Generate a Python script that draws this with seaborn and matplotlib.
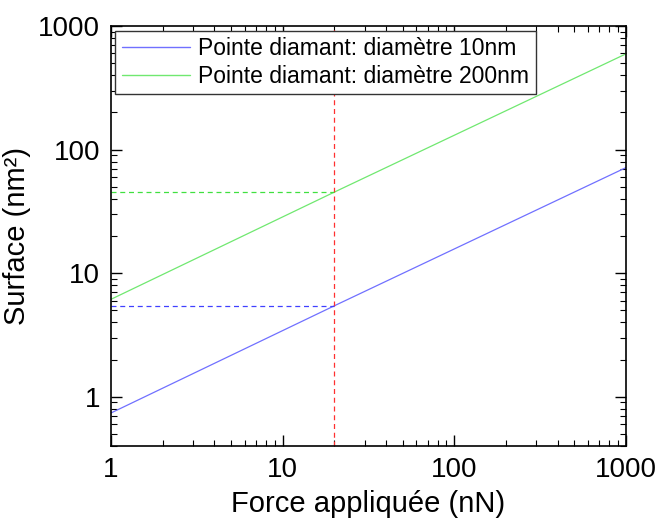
import matplotlib
matplotlib.use("Agg")
import pandas as pd
import matplotlib.pyplot as plt
import seaborn as sns
from matplotlib.ticker import LogLocator, NullFormatter

# --- Data ---
force_nN = [1, 20, 1000]
surface_10nm = [0.74, 5.45, 71.5]
surface_200nm = [6.15, 45.3, 595]
label_10nm = "Pointe diamant: diamètre 10nm"
label_200nm = "Pointe diamant: diamètre 200nm"
force_mark = 20
x_ticks = [1, 10, 100, 1000]
y_ticks = [1, 10, 100, 1000]

df = pd.DataFrame({
    "force": force_nN * 2,
    "surface": surface_10nm + surface_200nm,
    "pointe": [label_10nm] * len(force_nN) + [label_200nm] * len(force_nN),
})

sns.set_theme(style="ticks")
plt.rcParams['font.family'] = ['Liberation Sans', 'DejaVu Sans']
plt.rcParams['text.color'] = 'black'
plt.rcParams['axes.labelcolor'] = 'black'
plt.rcParams['xtick.color'] = 'black'
plt.rcParams['ytick.color'] = 'black'

fig = plt.figure(figsize=(6.62, 5.27), dpi=100)
ax = fig.add_axes([0.1677, 0.1537, 0.7779, 0.797])

sns.lineplot(data=df, x="force", y="surface", hue="pointe",
             palette={label_10nm: "#7070ff", label_200nm: "#70e870"},
             linewidth=0.9, ax=ax)

ax.set_xscale("log")
ax.set_yscale("log")
ax.set_xlim(1, 1000)
ax.set_ylim(0.4, 1000)

# guide lines at 20 nN
ax.axvline(force_mark, color="#ff3030", linestyle=(0, (4, 3)), linewidth=0.9)
ax.plot([1, force_mark], [surface_10nm[1]] * 2, color="#4040ff", linestyle=(0, (4, 3)), linewidth=0.9)
ax.plot([1, force_mark], [surface_200nm[1]] * 2, color="#40e040", linestyle=(0, (4, 3)), linewidth=0.9)

ax.set_xticks(x_ticks)
ax.set_xticklabels([str(t) for t in x_ticks])
ax.set_yticks(y_ticks)
ax.set_yticklabels([str(t) for t in y_ticks])
ax.xaxis.set_minor_locator(LogLocator(base=10, subs=range(2, 10)))
ax.yaxis.set_minor_locator(LogLocator(base=10, subs=range(2, 10)))
ax.xaxis.set_minor_formatter(NullFormatter())
ax.yaxis.set_minor_formatter(NullFormatter())
ax.tick_params(which="both", direction="in", top=True, right=True, color="black")
ax.tick_params(which="major", length=8, width=1, labelsize=20, pad=8)
ax.tick_params(which="minor", length=4, width=0.8)
for s in ax.spines.values():
    s.set_color("black")
    s.set_linewidth(1.2)

ax.set_xlabel("Force appliquée (nN)", fontsize=21, labelpad=5)
ax.set_ylabel("Surface (nm²)", fontsize=21, labelpad=5)

leg = ax.legend(loc="upper left", bbox_to_anchor=(0.008, 0.988), borderaxespad=0,
                fontsize=16.5, frameon=True, fancybox=False, shadow=False,
                handlelength=3.0, handletextpad=0.35, borderpad=0.28, labelspacing=0.18)
leg.get_frame().set_edgecolor("#333333")
leg.get_frame().set_linewidth(1.0)
leg.get_frame().set_alpha(1)
for line in leg.get_lines():
    line.set_linewidth(1.0)

fig.savefig("out.png", dpi=100)
